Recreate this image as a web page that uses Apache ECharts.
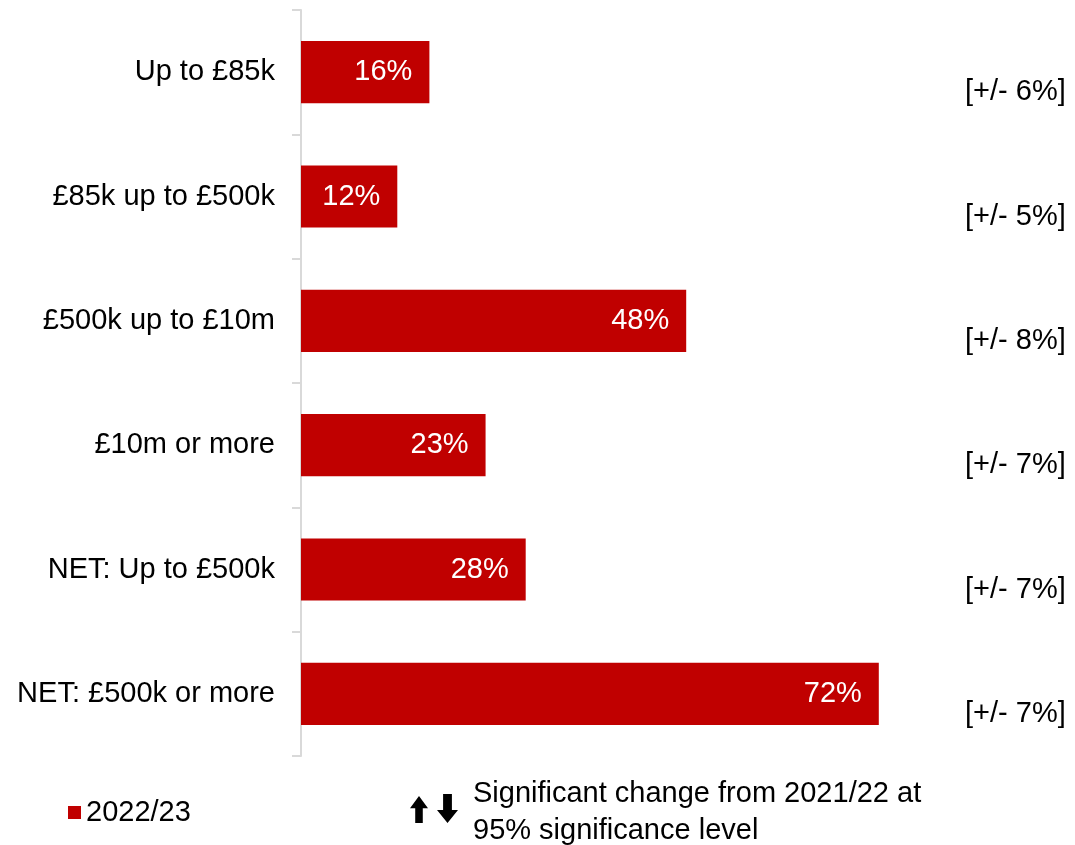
<!DOCTYPE html>
<html>
<head>
<meta charset="utf-8">
<script src="https://cdn.jsdelivr.net/npm/echarts@6/dist/echarts.min.js"></script>
<style>
  html, body { margin: 0; padding: 0; background: #ffffff; }
  #chart { width: 1075px; height: 845px; }
</style>
</head>
<body>
<div id="chart"></div>
<script>
// Turnover bands and share of respondents, 2022/23
const categories = ['Up to £85k', '£85k up to £500k', '£500k up to £10m', '£10m or more', 'NET: Up to £500k', 'NET: £500k or more'];
const values2022 = [16, 12, 48, 23, 28, 72];
const margins = ['[+/- 6%]', '[+/- 5%]', '[+/- 8%]', '[+/- 7%]', '[+/- 7%]', '[+/- 7%]'];
const seriesName = '2022/23';
const noteLines = ['Significant change from 2021/22 at', '95% significance level'];

const FONT = 'Liberation Sans, Arial, sans-serif';
const FS = 29;
const RED = '#c00000';

const chart = echarts.init(document.getElementById('chart'), null, { renderer: 'canvas' });

// Up / down arrow glyphs used in the significance note
function arrowPoints(x, top, w, h, up) {
  const headH = h * 0.45, bw = w * 0.42;
  const cx = x + w / 2;
  if (up) {
    return [[cx, top], [x + w, top + headH], [cx + bw / 2, top + headH], [cx + bw / 2, top + h],
            [cx - bw / 2, top + h], [cx - bw / 2, top + headH], [x, top + headH]];
  }
  const b = top + h;
  return [[cx, b], [x + w, b - headH], [cx + bw / 2, b - headH], [cx + bw / 2, top],
          [cx - bw / 2, top], [cx - bw / 2, b - headH], [x, b - headH]];
}

chart.setOption({
  animation: false,
  backgroundColor: '#ffffff',
  textStyle: { fontFamily: FONT },
  grid: { left: 301, top: 10, width: 642, height: 746, containLabel: false },
  legend: {
    data: [seriesName],
    left: 63, top: 793,
    icon: 'rect', itemWidth: 13, itemHeight: 13, itemGap: 10,
    textStyle: { fontFamily: FONT, fontSize: FS, color: '#000000', padding: [0, 0, 0, 0] }
  },
  xAxis: {
    type: 'value', min: 0, max: 80, show: false
  },
  yAxis: [
    {
      type: 'category', data: categories, inverse: true,
      axisLine: { show: true, lineStyle: { color: '#d9d9d9', width: 2 } },
      axisTick: { show: true, length: 9, lineStyle: { color: '#d9d9d9', width: 2 } },
      axisLabel: { fontFamily: FONT, fontSize: FS, color: '#000000', margin: 26, padding: [8, 0, 0, 0] },
      splitLine: { show: false }
    },
    {
      // margin of error, set just below each bar's centre line
      type: 'category', data: margins, inverse: true, position: 'right',
      axisLine: { show: false }, axisTick: { show: false },
      axisLabel: {
        fontFamily: FONT, fontSize: FS, color: '#000000', margin: 22, align: 'left',
        lineHeight: 40, formatter: v => '\n' + v
      },
      splitLine: { show: false }
    }
  ],
  series: [{
    name: seriesName,
    type: 'bar',
    data: values2022,
    barWidth: '50%',
    itemStyle: { color: RED },
    label: {
      show: true, position: 'insideRight', distance: 17,
      formatter: '{c}%', color: '#ffffff', fontFamily: FONT, fontSize: FS
    }
  }],
  graphic: [
    { type: 'polygon', shape: { points: arrowPoints(410, 796, 18, 27, true) }, style: { fill: '#000000' } },
    { type: 'polygon', shape: { points: arrowPoints(437, 794, 21, 29, false) }, style: { fill: '#000000' } },
    {
      type: 'text', left: 473, top: 775,
      style: { text: noteLines.join('\n'), fontFamily: FONT, fontSize: FS, lineHeight: 37, fill: '#000000' }
    }
  ]
});
</script>
</body>
</html>
